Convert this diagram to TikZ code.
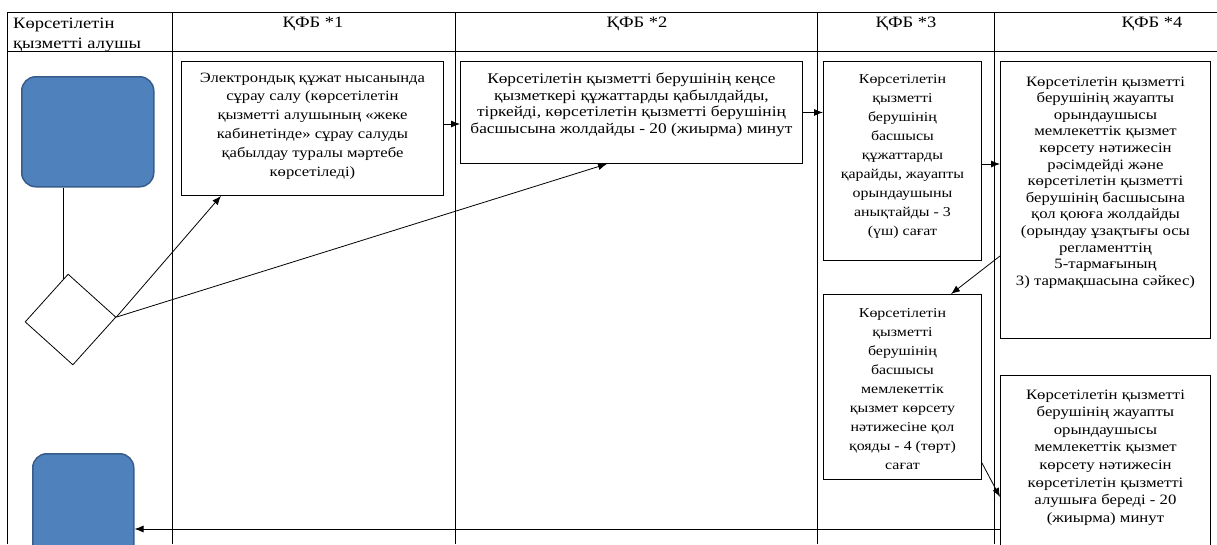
\documentclass[tikz,border=0pt]{standalone}
\usepackage{fontspec}
\setmainfont[FakeStretch=1.17]{Liberation Serif}
\usetikzlibrary{shapes.geometric,arrows.meta,calc}
\begin{document}
\begin{tikzpicture}[x=1pt,y=1pt,
  grid/.style={line width=0.8pt},
  box/.style={draw, line width=0.9pt, inner sep=0pt, anchor=north west},
  txt/.style={align=center, anchor=north, inner sep=0pt},
  hdr/.style={inner sep=0pt, font=\fontsize{15.8}{20}\selectfont},
  term/.style={draw={rgb,255:red,56;green,93;blue,138}, fill={rgb,255:red,79;green,129;blue,189}, line width=1.5pt, rounded corners=14pt, inner sep=0pt, anchor=north west},
  arr/.style={line width=0.8pt, -{Latex[length=9pt,width=7pt]}},
  conn/.style={line width=0.8pt}]
\useasboundingbox (0,0) rectangle (1217,-544);
\clip (0,0) rectangle (1217,-544);
% grid
\draw[grid] (7,-12) -- (1217,-12);
\draw[grid] (7,-51) -- (1217,-51);
\foreach \xx in {7,172,455,817,994} \draw[grid] (\xx,-12) -- (\xx,-544);
% header
\node[hdr, anchor=north west, align=left] (h0) at (13,-18) {Көрсетілетін\\қызметті алушы};
\node[hdr] (h1) at (313,-24) {ҚФБ *1};
\node[hdr] (h2) at (637,-24) {ҚФБ *2};
\node[hdr] (h3) at (906,-24) {ҚФБ *3};
\node[hdr] (h4) at (1152,-24) {ҚФБ *4};
% terminals
\node[term, minimum width=132pt, minimum height=110pt] (start1) at (21,-76) {};
\node[term, minimum width=101pt, minimum height=120pt] (start2) at (32,-453) {};
\node[draw, line width=0.8pt, shape=diamond, minimum width=91pt, minimum height=91pt, inner sep=0pt, rotate=3] (dia) at (70.5,-319.5) {};
% boxes
\node[box, minimum width=262pt, minimum height=134pt] (b1) at (181,-61) {};
\node[box, minimum width=342pt, minimum height=102pt] (b2) at (460,-61) {};
\node[box, minimum width=158pt, minimum height=199pt] (b3) at (823,-61) {};
\node[box, minimum width=210pt, minimum height=277pt] (b4) at (1000,-61) {};
\node[box, minimum width=158pt, minimum height=185pt] (b5) at (823,-294) {};
\node[box, minimum width=210pt, minimum height=190pt] (b6) at (1000,-375) {};
% texts
\node[txt, font=\fontsize{14.2}{18.8}\selectfont] (t1) at ($(b1.north)+(0,-11.5)$) {Электрондық құжат нысанында\\сұрау салу (көрсетілетін\\қызметті алушының «жеке\\кабинетінде» сұрау салуды\\қабылдау туралы мәртебе\\көрсетіледі)};
\node[txt, font=\fontsize{14.8}{16.5}\selectfont] (t2) at ($(b2.north)+(0,-12)$) {Көрсетілетін қызметті берушінің кеңсе\\қызметкері құжаттарды қабылдайды,\\тіркейді, көрсетілетін қызметті берушінің\\басшысына жолдайды - 20 (жиырма) минут};
\node[txt, font=\fontsize{13.6}{19}\selectfont] (t3) at ($(b3.north)+(0,-13.5)$) {Көрсетілетін\\қызметті\\берушінің\\басшысы\\құжаттарды\\қарайды, жауапты\\орындаушыны\\анықтайды - 3\\(үш) сағат};
\node[txt, font=\fontsize{14.3}{16.6}\selectfont] (t4) at ($(b4.north)+(0,-15.5)$) {Көрсетілетін қызметті\\берушінің жауапты\\орындаушысы\\мемлекеттік қызмет\\көрсету нәтижесін\\рәсімдейді және\\көрсетілетін қызметті\\берушінің басшысына\\қол қоюға жолдайды\\(орындау ұзақтығы осы\\регламенттің\\5-тармағының\\3) тармақшасына сәйкес)};
\node[txt, font=\fontsize{13.6}{19}\selectfont] (t5) at ($(b5.north)+(0,-14)$) {Көрсетілетін\\қызметті\\берушінің\\басшысы\\мемлекеттік\\қызмет көрсету\\нәтижесіне қол\\қояды - 4 (төрт)\\сағат};
\node[txt, font=\fontsize{14.3}{17.6}\selectfont] (t6) at ($(b6.north)+(0,-14.5)$) {Көрсетілетін қызметті\\берушінің жауапты\\орындаушысы\\мемлекеттік қызмет\\көрсету нәтижесін\\көрсетілетін қызметті\\алушыға береді - 20\\(жиырма) минут};
% connectors
\coordinate (s1) at ([xshift=-24pt]start1.south);
\coordinate (dtop) at ($(dia.west)!0.884!(dia.north)$);
\draw[conn] (s1) -- (s1 |- dtop);
\draw[arr] (dia.east) -- ($(b1.south west)+(40,0)$);
\draw[arr] (dia.east) -- ($(b2.south west)+(147,0)$);
\draw[arr] ($(b1.north east)+(0,-63)$) -- ($(b2.north west)+(0,-63)$);
\draw[arr] (b2.east) -- (b2.east -| b3.west);
\draw[arr] ($(b3.north east)+(0,-103)$) -- ($(b4.north west)+(0,-103)$);
\draw[arr] ($(b4.north west)+(0,-195)$) -- ($(b5.north west)+(128,0)$);
\draw[arr] ($(b5.south east)+(0,17)$) -- ($(b6.north west)+(0,-122)$);
\coordinate (e6) at ($(b6.north west)+(0,-154)$);
\draw[arr] (e6) -- (e6 -| start2.east);
\end{tikzpicture}
\end{document}
